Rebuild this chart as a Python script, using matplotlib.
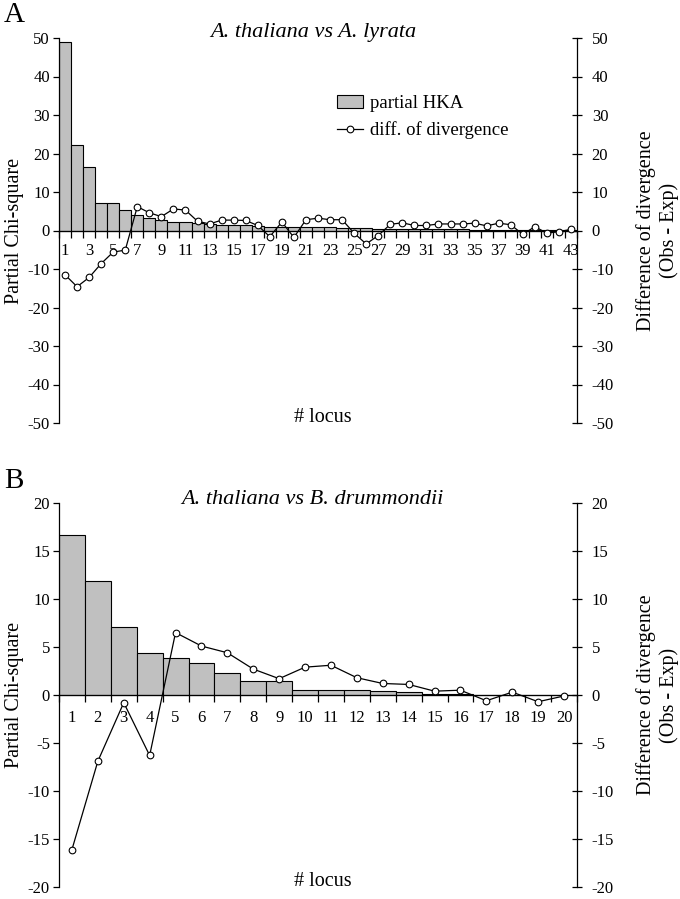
import numpy as np
import matplotlib
matplotlib.use("Agg")
import matplotlib.pyplot as plt
from matplotlib.patches import Patch
from matplotlib.lines import Line2D

plt.rcParams['font.family'] = ['Liberation Serif', 'DejaVu Serif']
plt.rcParams['axes.unicode_minus'] = False

# panel A: A. thaliana vs A. lyrata (43 loci)
LOCI_A = list(range(1, 44))
HKA_A = [49.0, 22.1, 16.4, 7.1, 7.1, 5.3, 3.9, 3.2, 2.6, 2.2, 2.2, 1.9, 1.6, 1.4, 1.3,
         1.3, 1.1, 1.0, 1.0, 0.9, 0.8, 0.8, 0.8, 0.7, 0.6, 0.6, 0.5, 0.4, 0.4, 0.4,
         0.3, 0.3, 0.3, 0.3, 0.2, 0.2, 0.2, 0.2, 0.1, 0.1, 0.1, 0.05, 0.05]
DIV_A = [-11.5, -14.6, -12.2, -8.6, -5.6, -5.1, 6.2, 4.6, 3.6, 5.6, 5.3, 2.4, 1.7, 2.7, 2.7,
         2.6, 1.3, -1.6, 2.2, -1.8, 2.8, 3.2, 2.8, 2.8, -0.7, -3.5, -1.3, 1.6, 2.0, 1.3,
         1.3, 1.7, 1.7, 1.7, 1.9, 1.2, 1.9, 1.5, -1.0, 1.0, -0.7, -0.3, 0.3]

# panel B: A. thaliana vs B. drummondii (20 loci)
LOCI_B = list(range(1, 21))
HKA_B = [16.7, 11.9, 7.1, 4.4, 3.9, 3.3, 2.3, 1.5, 1.5, 0.5, 0.5, 0.5, 0.4, 0.3,
         0.08, 0.08, 0.05, 0.05, 0.03, 0.03]
DIV_B = [-16.1, -6.9, -0.8, -6.3, 6.5, 5.1, 4.4, 2.7, 1.7, 2.9, 3.1, 1.8, 1.2, 1.1,
         0.4, 0.5, -0.6, 0.3, -0.7, -0.1]

BAR_COLOR = "#c0c0c0"
W, H = 680, 899
TICK_FS = 12


def panel(fig, top_px, bot_px, loci, hka, div, lim, step, label_every, title,
          xpad, title_y):
    left_px, right_px = 59, 577
    ax = fig.add_axes([left_px / W, 1 - bot_px / H, (right_px - left_px) / W,
                       (bot_px - top_px) / H])
    x = np.array(loci)
    n = len(loci)
    ax.bar(x, hka, width=1.0, color=BAR_COLOR, edgecolor="black", linewidth=0.8, zorder=2)
    ax.set_xlim(0.5, n + 0.5)
    ax.set_ylim(-lim, lim)
    ax.set_yticks(np.arange(-lim, lim + 0.1, step))
    ax.spines["top"].set_visible(False)
    ax.spines["right"].set_visible(False)
    ax.spines["bottom"].set_position(("data", 0))
    ax.spines["bottom"].set_zorder(3)
    for s in ax.spines.values():
        s.set_linewidth(0.9)
    ax.set_xticks(x[::label_every])
    ax.set_xticklabels([str(v) for v in x[::label_every]])
    ax.set_xticks(np.arange(0.5, n + 1), minor=True)
    ax.tick_params(axis="x", which="major", length=0, pad=xpad, labelsize=TICK_FS)
    ax.tick_params(axis="x", which="minor", direction="out", length=5, width=0.9)
    ax.tick_params(axis="y", direction="out", length=4.3, width=0.9, pad=2.2,
                   labelsize=TICK_FS)
    ax.set_ylabel("Partial Chi-square", fontsize=14.5)
    ax.yaxis.set_label_coords(-0.068, 0.5)

    ax2 = ax.twinx()
    ax2.set_ylim(-lim, lim)
    ax2.set_yticks(np.arange(-lim, lim + 0.1, step))
    for k in ("top", "bottom", "left"):
        ax2.spines[k].set_visible(False)
    ax2.spines["right"].set_linewidth(0.9)
    ax2.tick_params(axis="y", direction="inout", length=7.2, width=0.9, pad=7,
                    labelsize=TICK_FS)
    ax2.plot(x, div, color="black", lw=0.9, marker="o", ms=4.8, mfc="white",
             mec="black", mew=0.8, zorder=4)
    ax2.set_ylabel("Difference of divergence\n(Obs - Exp)", fontsize=14.5)
    ax2.yaxis.set_label_coords(1.115, 0.5)

    ax.text(0.49, title_y, title, transform=ax.transAxes, ha="center", va="center",
            fontsize=16, style="italic")
    ax.text(0.51, 0.014, "# locus", transform=ax.transAxes, ha="center", va="center",
            fontsize=14.5)
    return ax, ax2


fig = plt.figure(figsize=(W / 100, H / 100), dpi=100)

axA, axA2 = panel(fig, 38, 423, LOCI_A, HKA_A, DIV_A, 50, 10, 2,
                  "A. thaliana vs A. lyrata", 9, 1.013)
axB, axB2 = panel(fig, 503, 887, LOCI_B, HKA_B, DIV_B, 20, 5, 1,
                  "A. thaliana vs B. drummondii", 10.5, 1.01)

fig.text(4 / W, 1 - 15 / H, "A", fontsize=21, va="center", ha="left")
fig.text(4 / W, 1 - 481 / H, "B", fontsize=21, va="center", ha="left")

handles = [Patch(facecolor=BAR_COLOR, edgecolor="black", linewidth=0.8),
           Line2D([], [], color="black", lw=0.9, marker="o", ms=4.8, mfc="white",
                  mec="black", mew=0.8)]
fig.legend(handles, ["partial HKA", "diff. of divergence"], loc="upper left",
           bbox_to_anchor=(337 / W, 1 - 95 / H), bbox_transform=fig.transFigure,
           frameon=False, fontsize=13.5, borderpad=0, borderaxespad=0,
           handlelength=1.4, handletextpad=0.35, labelspacing=0.5)

fig.savefig("out.png", dpi=100)
